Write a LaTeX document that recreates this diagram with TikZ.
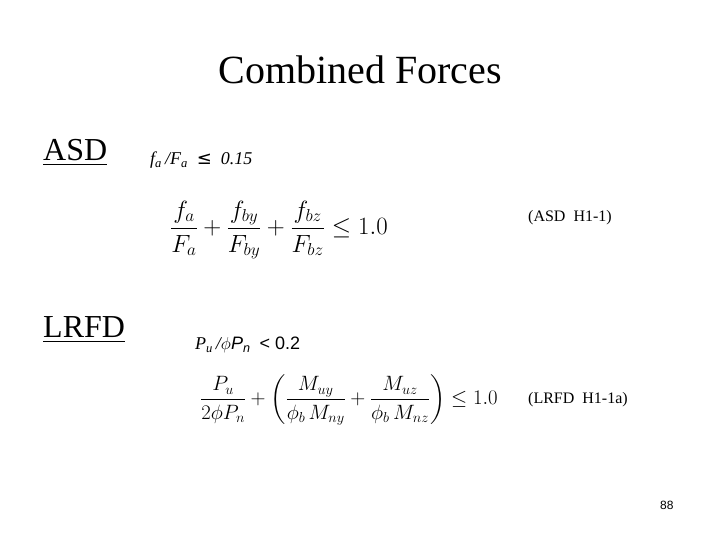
\documentclass[tikz,border=0pt]{standalone}
\usepackage{amsmath}
\usepackage{fontspec}
\setmainfont{Liberation Serif}
\newfontfamily\symf{DejaVu Sans}
\newfontfamily\arialf{Liberation Sans}
\begin{document}
\begin{tikzpicture}[x=1pt,y=-1pt,
  lbl/.style={anchor=west,inner sep=0pt}]
\useasboundingbox (0,0) rectangle (720,540);
\node[inner sep=0pt] (title) at (360,70) {\fontsize{40}{44}\selectfont Combined Forces};
\node[lbl] (asd) at (43,153) {\fontsize{32}{36}\selectfont\underline{ASD}};
\node[lbl] (c1) at (150,160) {\fontsize{18}{20}\selectfont\itshape f\textsubscript{a}\,/F\textsubscript{a}\ \ {\symf\upshape ≤}\ \ 0.15};
\node[lbl] (e1) at (170,230) {\fontsize{25}{30}\selectfont $\dfrac{f_a}{F_a}+\dfrac{f_{by}}{F_{by}}+\dfrac{f_{bz}}{F_{bz}}\le 1.0$};
\node[lbl] (r1) at (528,218) {\fontsize{16}{19}\selectfont (ASD\ \ H1-1)};
\node[lbl] (lrfd) at (43,330) {\fontsize{32}{36}\selectfont\underline{LRFD}};
\node[lbl] (c2) at (195,345) {\fontsize{18}{20}\selectfont\itshape P\textsubscript{u}\,/{\upshape$\phi$}{\arialf P\textsubscript{n}}\ \ {\upshape\arialf <\ 0.2}};
\node[lbl] (e2) at (200,400) {\fontsize{20}{24}\selectfont $\dfrac{P_u}{2\phi P_n}+\left(\dfrac{M_{uy}}{\phi_b\,M_{ny}}+\dfrac{M_{uz}}{\phi_b\,M_{nz}}\right)\le 1.0$};
\node[lbl] (r2) at (528,400) {\fontsize{16}{19}\selectfont (LRFD\ \ H1-1a)};
\node[lbl] (pg) at (660,505) {\fontsize{12}{14}\selectfont\arialf 88};
\end{tikzpicture}
\end{document}
